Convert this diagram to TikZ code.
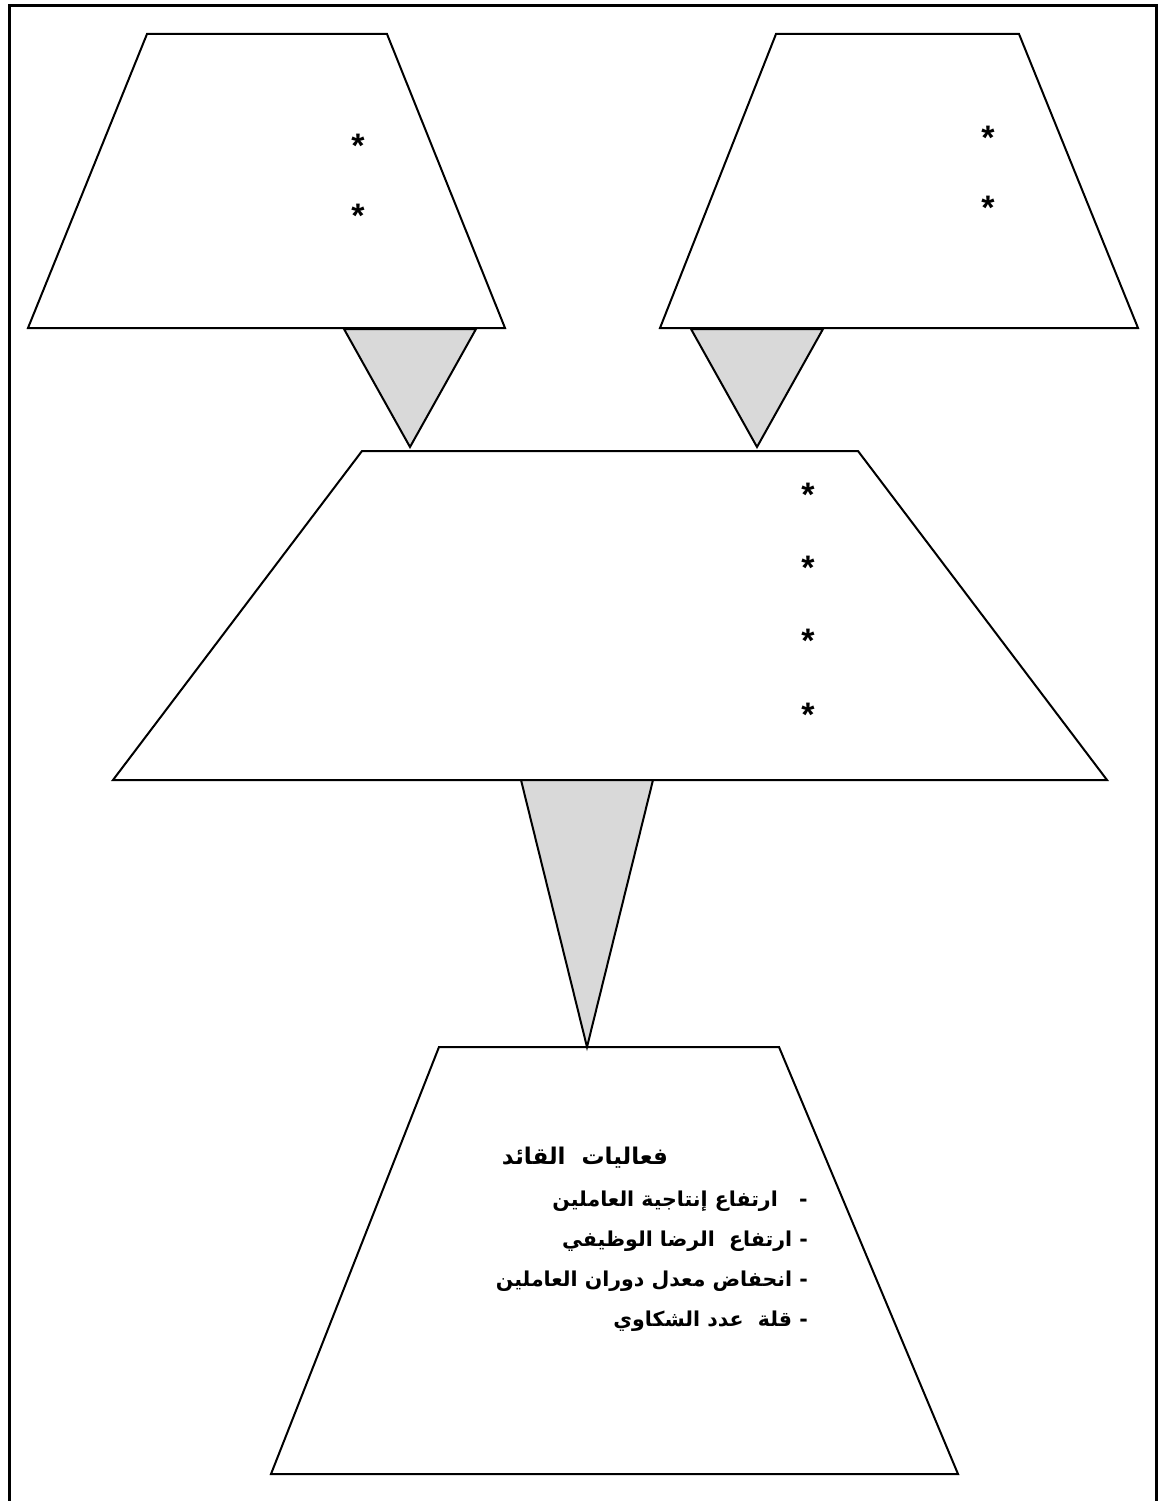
\documentclass[tikz,border=0pt]{standalone}
\usepackage{fontspec}
\setmainfont{Liberation Sans}
\newfontfamily\arabicfont[Script=Arabic]{DejaVu Sans}
\TeXXeTstate=1
\begin{document}
\begin{tikzpicture}[x=1pt,y=-1pt,
  trap/.style={draw=black, line width=2pt, line join=miter, fill=white},
  funnel/.style={draw=black, line width=2pt, line join=miter, fill=gray!30},
  starmark/.style={font=\fontsize{34}{34}\selectfont\bfseries, inner sep=0pt},
  title/.style={font=\arabicfont\bfseries\fontsize{23}{26}\selectfont, inner sep=0pt},
  item/.style={font=\arabicfont\bfseries\fontsize{20.5}{24}\selectfont, inner sep=0pt, anchor=east}]
\useasboundingbox (0,0) rectangle (1159,1501);
% frame
\draw[line width=3.6pt] (9.5,1510) -- (9.5,5.5) -- (1156.5,5.5) -- (1156.5,1510);
% corner coordinates
\coordinate (tl1) at (147,34);  \coordinate (tl2) at (387,34);
\coordinate (tl3) at (505,328); \coordinate (tl4) at (28,328);
\coordinate (tr1) at (776,34);  \coordinate (tr2) at (1019,34);
\coordinate (tr3) at (1138,328);\coordinate (tr4) at (660,328);
\coordinate (m1) at (362,451);  \coordinate (m2) at (858,451);
\coordinate (m3) at (1107,780); \coordinate (m4) at (113,780);
\coordinate (b1) at (439,1047); \coordinate (b2) at (779,1047);
\coordinate (b3) at (958,1474); \coordinate (b4) at (271,1474);
% trapezoids
\draw[trap] (tl1) -- (tl2) -- (tl3) -- (tl4) -- cycle;
\draw[trap] (tr1) -- (tr2) -- (tr3) -- (tr4) -- cycle;
\draw[trap] (m1) -- (m2) -- (m3) -- (m4) -- cycle;
\draw[trap] (b1) -- (b2) -- (b3) -- (b4) -- cycle;
% funnels
\coordinate (f1a) at (344,329); \coordinate (f1b) at (476,329); \coordinate (f1c) at (410,447);
\coordinate (f2a) at (691,329); \coordinate (f2b) at (823,329); \coordinate (f2c) at (757,447);
\coordinate (f3a) at (521,780); \coordinate (f3b) at (653,780); \coordinate (f3c) at (587,1047);
\draw[funnel] (f1a) -- (f1b) -- (f1c) -- cycle;
\draw[funnel] (f2a) -- (f2b) -- (f2c) -- cycle;
\draw[funnel] (f3a) -- (f3b) -- (f3c) -- cycle;
% stars
\node[starmark] (s1) at (358,146) {*};
\node[starmark] (s2) at (358,216) {*};
\node[starmark] (s3) at (988,138) {*};
\node[starmark] (s4) at (988,208) {*};
\node[starmark] (s5) at (808,495) {*};
\node[starmark] (s6) at (808,568) {*};
\node[starmark] (s7) at (808,641) {*};
\node[starmark] (s8) at (808,715) {*};
% text
\node[title] (t0) at (585,1158) {\beginR فعاليات\ \ القائد\endR};
\node[item] (t1) at (808,1201) {\beginR -\ \ \ ارتفاع إنتاجية العاملين\endR};
\node[item] (t2) at (808,1241) {\beginR - ارتفاع\ \ الرضا الوظيفي\endR};
\node[item] (t3) at (808,1281) {\beginR - انحفاض معدل دوران العاملين\endR};
\node[item] (t4) at (808,1321) {\beginR - قلة\ \ عدد الشكاوي\endR};
\end{tikzpicture}
\end{document}
